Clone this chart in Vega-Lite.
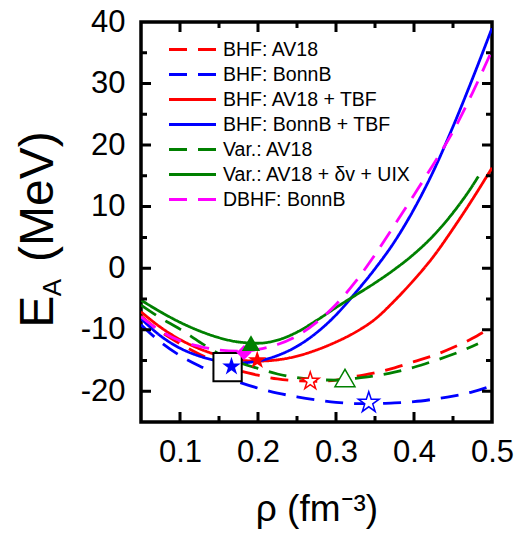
{
  "$schema": "https://vega.github.io/schema/vega-lite/v6.json",
  "width": 351,
  "height": 400,
  "autosize": {"type": "none"},
  "padding": {"left": 141, "top": 22, "right": 27, "bottom": 115},
  "background": "white",
  "datasets": {
    "curves": [
      {"s": "BHF: AV18", "x": 0.05, "y": -7.8}, {"s": "BHF: AV18", "x": 0.075, "y": -10.3}, {"s": "BHF: AV18", "x": 0.1, "y": -12.3}, {"s": "BHF: AV18", "x": 0.125, "y": -14.0}, {"s": "BHF: AV18", "x": 0.15, "y": -15.4}, {"s": "BHF: AV18", "x": 0.175, "y": -16.6}, {"s": "BHF: AV18", "x": 0.2, "y": -17.4}, {"s": "BHF: AV18", "x": 0.225, "y": -18.0}, {"s": "BHF: AV18", "x": 0.25, "y": -18.3}, {"s": "BHF: AV18", "x": 0.275, "y": -18.4}, {"s": "BHF: AV18", "x": 0.3, "y": -18.2}, {"s": "BHF: AV18", "x": 0.325, "y": -17.6}, {"s": "BHF: AV18", "x": 0.35, "y": -17.0}, {"s": "BHF: AV18", "x": 0.375, "y": -16.2}, {"s": "BHF: AV18", "x": 0.4, "y": -15.2}, {"s": "BHF: AV18", "x": 0.425, "y": -14.2}, {"s": "BHF: AV18", "x": 0.45, "y": -12.9}, {"s": "BHF: AV18", "x": 0.475, "y": -11.4}, {"s": "BHF: AV18", "x": 0.489, "y": -10.4},
      {"s": "BHF: BonnB", "x": 0.05, "y": -9.2}, {"s": "BHF: BonnB", "x": 0.075, "y": -12.0}, {"s": "BHF: BonnB", "x": 0.1, "y": -14.2}, {"s": "BHF: BonnB", "x": 0.125, "y": -15.9}, {"s": "BHF: BonnB", "x": 0.15, "y": -17.3}, {"s": "BHF: BonnB", "x": 0.175, "y": -18.5}, {"s": "BHF: BonnB", "x": 0.2, "y": -19.5}, {"s": "BHF: BonnB", "x": 0.225, "y": -20.3}, {"s": "BHF: BonnB", "x": 0.25, "y": -20.9}, {"s": "BHF: BonnB", "x": 0.275, "y": -21.4}, {"s": "BHF: BonnB", "x": 0.3, "y": -21.8}, {"s": "BHF: BonnB", "x": 0.325, "y": -22.0}, {"s": "BHF: BonnB", "x": 0.35, "y": -22.0}, {"s": "BHF: BonnB", "x": 0.375, "y": -21.9}, {"s": "BHF: BonnB", "x": 0.4, "y": -21.7}, {"s": "BHF: BonnB", "x": 0.425, "y": -21.3}, {"s": "BHF: BonnB", "x": 0.45, "y": -20.8}, {"s": "BHF: BonnB", "x": 0.475, "y": -20.1}, {"s": "BHF: BonnB", "x": 0.5, "y": -19.1},
      {"s": "BHF: AV18 + TBF", "x": 0.05, "y": -7.1}, {"s": "BHF: AV18 + TBF", "x": 0.075, "y": -9.6}, {"s": "BHF: AV18 + TBF", "x": 0.1, "y": -11.6}, {"s": "BHF: AV18 + TBF", "x": 0.125, "y": -13.1}, {"s": "BHF: AV18 + TBF", "x": 0.15, "y": -14.2}, {"s": "BHF: AV18 + TBF", "x": 0.175, "y": -14.9}, {"s": "BHF: AV18 + TBF", "x": 0.2, "y": -15.1}, {"s": "BHF: AV18 + TBF", "x": 0.225, "y": -14.9}, {"s": "BHF: AV18 + TBF", "x": 0.25, "y": -14.3}, {"s": "BHF: AV18 + TBF", "x": 0.275, "y": -13.3}, {"s": "BHF: AV18 + TBF", "x": 0.3, "y": -12.0}, {"s": "BHF: AV18 + TBF", "x": 0.325, "y": -10.4}, {"s": "BHF: AV18 + TBF", "x": 0.35, "y": -8.3}, {"s": "BHF: AV18 + TBF", "x": 0.375, "y": -5.3}, {"s": "BHF: AV18 + TBF", "x": 0.4, "y": -1.9}, {"s": "BHF: AV18 + TBF", "x": 0.425, "y": 1.9}, {"s": "BHF: AV18 + TBF", "x": 0.45, "y": 6.4}, {"s": "BHF: AV18 + TBF", "x": 0.475, "y": 11.2}, {"s": "BHF: AV18 + TBF", "x": 0.5, "y": 16.3},
      {"s": "BHF: BonnB + TBF", "x": 0.05, "y": -8.2}, {"s": "BHF: BonnB + TBF", "x": 0.075, "y": -11.0}, {"s": "BHF: BonnB + TBF", "x": 0.1, "y": -13.0}, {"s": "BHF: BonnB + TBF", "x": 0.125, "y": -14.3}, {"s": "BHF: BonnB + TBF", "x": 0.15, "y": -15.1}, {"s": "BHF: BonnB + TBF", "x": 0.175, "y": -15.4}, {"s": "BHF: BonnB + TBF", "x": 0.2, "y": -15.1}, {"s": "BHF: BonnB + TBF", "x": 0.225, "y": -14.2}, {"s": "BHF: BonnB + TBF", "x": 0.25, "y": -12.7}, {"s": "BHF: BonnB + TBF", "x": 0.275, "y": -10.5}, {"s": "BHF: BonnB + TBF", "x": 0.3, "y": -7.6}, {"s": "BHF: BonnB + TBF", "x": 0.325, "y": -4.0}, {"s": "BHF: BonnB + TBF", "x": 0.35, "y": -0.1}, {"s": "BHF: BonnB + TBF", "x": 0.375, "y": 4.3}, {"s": "BHF: BonnB + TBF", "x": 0.4, "y": 9.6}, {"s": "BHF: BonnB + TBF", "x": 0.425, "y": 15.8}, {"s": "BHF: BonnB + TBF", "x": 0.45, "y": 23.0}, {"s": "BHF: BonnB + TBF", "x": 0.475, "y": 30.8}, {"s": "BHF: BonnB + TBF", "x": 0.5, "y": 39.0},
      {"s": "Var.: AV18", "x": 0.05, "y": -6.0}, {"s": "Var.: AV18", "x": 0.075, "y": -8.1}, {"s": "Var.: AV18", "x": 0.1, "y": -9.9}, {"s": "Var.: AV18", "x": 0.125, "y": -12.0}, {"s": "Var.: AV18", "x": 0.15, "y": -13.9}, {"s": "Var.: AV18", "x": 0.175, "y": -15.3}, {"s": "Var.: AV18", "x": 0.2, "y": -16.3}, {"s": "Var.: AV18", "x": 0.225, "y": -17.2}, {"s": "Var.: AV18", "x": 0.25, "y": -17.8}, {"s": "Var.: AV18", "x": 0.275, "y": -18.1}, {"s": "Var.: AV18", "x": 0.3, "y": -18.2}, {"s": "Var.: AV18", "x": 0.325, "y": -17.9}, {"s": "Var.: AV18", "x": 0.35, "y": -17.5}, {"s": "Var.: AV18", "x": 0.375, "y": -16.9}, {"s": "Var.: AV18", "x": 0.4, "y": -16.1}, {"s": "Var.: AV18", "x": 0.425, "y": -15.1}, {"s": "Var.: AV18", "x": 0.45, "y": -14.0}, {"s": "Var.: AV18", "x": 0.475, "y": -12.7}, {"s": "Var.: AV18", "x": 0.482, "y": -12.3},
      {"s": "Var.: AV18 + δv + UIX", "x": 0.05, "y": -5.2}, {"s": "Var.: AV18 + δv + UIX", "x": 0.075, "y": -7.1}, {"s": "Var.: AV18 + δv + UIX", "x": 0.1, "y": -8.8}, {"s": "Var.: AV18 + δv + UIX", "x": 0.125, "y": -10.2}, {"s": "Var.: AV18 + δv + UIX", "x": 0.15, "y": -11.3}, {"s": "Var.: AV18 + δv + UIX", "x": 0.175, "y": -12.0}, {"s": "Var.: AV18 + δv + UIX", "x": 0.2, "y": -12.2}, {"s": "Var.: AV18 + δv + UIX", "x": 0.225, "y": -11.7}, {"s": "Var.: AV18 + δv + UIX", "x": 0.25, "y": -10.4}, {"s": "Var.: AV18 + δv + UIX", "x": 0.275, "y": -8.5}, {"s": "Var.: AV18 + δv + UIX", "x": 0.3, "y": -6.4}, {"s": "Var.: AV18 + δv + UIX", "x": 0.325, "y": -4.4}, {"s": "Var.: AV18 + δv + UIX", "x": 0.35, "y": -2.4}, {"s": "Var.: AV18 + δv + UIX", "x": 0.375, "y": -0.2}, {"s": "Var.: AV18 + δv + UIX", "x": 0.4, "y": 2.3}, {"s": "Var.: AV18 + δv + UIX", "x": 0.425, "y": 5.3}, {"s": "Var.: AV18 + δv + UIX", "x": 0.45, "y": 9.0}, {"s": "Var.: AV18 + δv + UIX", "x": 0.475, "y": 13.4}, {"s": "Var.: AV18 + δv + UIX", "x": 0.4825, "y": 14.9},
      {"s": "DBHF: BonnB", "x": 0.05, "y": -7.9}, {"s": "DBHF: BonnB", "x": 0.075, "y": -10.2}, {"s": "DBHF: BonnB", "x": 0.1, "y": -11.8}, {"s": "DBHF: BonnB", "x": 0.125, "y": -12.7}, {"s": "DBHF: BonnB", "x": 0.15, "y": -13.3}, {"s": "DBHF: BonnB", "x": 0.175, "y": -13.5}, {"s": "DBHF: BonnB", "x": 0.2, "y": -13.2}, {"s": "DBHF: BonnB", "x": 0.225, "y": -12.4}, {"s": "DBHF: BonnB", "x": 0.25, "y": -11.0}, {"s": "DBHF: BonnB", "x": 0.275, "y": -8.8}, {"s": "DBHF: BonnB", "x": 0.3, "y": -5.9}, {"s": "DBHF: BonnB", "x": 0.325, "y": -2.2}, {"s": "DBHF: BonnB", "x": 0.35, "y": 2.2}, {"s": "DBHF: BonnB", "x": 0.375, "y": 7.0}, {"s": "DBHF: BonnB", "x": 0.4, "y": 11.9}, {"s": "DBHF: BonnB", "x": 0.425, "y": 16.9}, {"s": "DBHF: BonnB", "x": 0.45, "y": 22.2}, {"s": "DBHF: BonnB", "x": 0.475, "y": 28.5}, {"s": "DBHF: BonnB", "x": 0.5, "y": 35.4}
    ],
    "markers": [
      {"id": "sq", "x": 0.161, "y": -16.1},
      {"id": "bstar", "x": 0.166, "y": -16.0},
      {"id": "rstar", "x": 0.199, "y": -14.95},
      {"id": "gtri", "x": 0.191, "y": -12.2},
      {"id": "mdia", "x": 0.182, "y": -13.7},
      {"id": "rostar", "x": 0.267, "y": -18.35},
      {"id": "gotri", "x": 0.3115, "y": -17.85},
      {"id": "bostar", "x": 0.342, "y": -21.85}
    ],
    "xmajor": [{"v": 0.1}, {"v": 0.2}, {"v": 0.3}, {"v": 0.4}],
    "xminor": [{"v": 0.15}, {"v": 0.25}, {"v": 0.35}, {"v": 0.45}],
    "ymajor": [{"v": -20}, {"v": -10}, {"v": 0}, {"v": 10}, {"v": 20}, {"v": 30}],
    "yminor": [{"v": -15}, {"v": -5}, {"v": 5}, {"v": 15}, {"v": 25}, {"v": 35}]
  },
  "resolve": {"axis": {"x": "independent", "y": "independent"}},
  "layer": [
    {
      "data": {"name": "curves"},
      "mark": {"type": "line", "strokeWidth": 2.8, "interpolate": "monotone", "clip": true},
      "encoding": {
        "x": {"field": "x", "type": "quantitative", "scale": {"domain": [0.05, 0.5], "nice": false, "zero": false},
          "axis": {"orient": "bottom", "values": [0.1, 0.2, 0.3, 0.4, 0.5], "format": ".1f", "ticks": false, "labelPadding": 15, "labelFlush": false,
            "title": "ρ (fm⁻³)", "titleFontSize": 37, "titleX": 175.5, "titleY": 98, "titleBaseline": "alphabetic", "titleAlign": "center"}},
        "y": {"field": "y", "type": "quantitative", "scale": {"domain": [-25, 40], "nice": false, "zero": false},
          "axis": {"orient": "left", "values": [-20, -10, 0, 10, 20, 30, 40], "ticks": false, "labelPadding": 16, "labelExpr": "'' + datum.value",
            "title": "E\u2002\u2009(MeV)", "titleFontSize": 48, "titleAngle": -90, "titleX": -89, "titleY": 207, "titleBaseline": "alphabetic", "titleAlign": "center"}},
        "color": {"field": "s", "type": "nominal",
          "scale": {"domain": ["BHF: AV18", "BHF: BonnB", "BHF: AV18 + TBF", "BHF: BonnB + TBF", "Var.: AV18", "Var.: AV18 + δv + UIX", "DBHF: BonnB"],
            "range": ["#ff0000", "#0000ff", "#ff0000", "#0000ff", "#008000", "#008000", "#ff00ff"]},
          "legend": {"orient": "none", "legendX": 40, "legendY": 16, "title": null, "symbolType": "M-2.35,0H2.35", "symbolSize": 400, "symbolStrokeWidth": 3, "labelFontSize": 19.5, "labelFont": "Liberation Sans", "labelColor": "black", "labelOffset": 19, "rowPadding": 4, "padding": 0, "labelLimit": 400}},
        "strokeDash": {"field": "s", "type": "nominal",
          "scale": {"domain": ["BHF: AV18", "BHF: BonnB", "BHF: AV18 + TBF", "BHF: BonnB + TBF", "Var.: AV18", "Var.: AV18 + δv + UIX", "DBHF: BonnB"],
            "range": [[18, 11], [18, 11], [1, 0], [1, 0], [18, 11], [1, 0], [18, 11]]},
          "legend": {"orient": "none", "legendX": 40, "legendY": 16, "title": null, "symbolType": "M-2.35,0H2.35", "symbolSize": 400, "symbolStrokeWidth": 3, "labelFontSize": 19.5, "labelFont": "Liberation Sans", "labelColor": "black", "labelOffset": 19, "rowPadding": 4, "padding": 0, "labelLimit": 400}}
      }
    },
    {
      "data": {"name": "xmajor"},
      "mark": {"type": "point", "shape": "M-0.0075,-1H0.0075V-0.95H-0.0075ZM-0.0075,0.95H0.0075V1H-0.0075Z", "size": 160000, "filled": true, "color": "black", "strokeWidth": 0, "opacity": 1},
      "encoding": {
        "x": {"field": "v", "type": "quantitative", "axis": null},
        "y": {"datum": 7.5, "type": "quantitative", "axis": null}
      }
    },
    {
      "data": {"name": "xminor"},
      "mark": {"type": "point", "shape": "M-0.0075,-1H0.0075V-0.97H-0.0075ZM-0.0075,0.97H0.0075V1H-0.0075Z", "size": 160000, "filled": true, "color": "black", "strokeWidth": 0, "opacity": 1},
      "encoding": {
        "x": {"field": "v", "type": "quantitative", "axis": null},
        "y": {"datum": 7.5, "type": "quantitative", "axis": null}
      }
    },
    {
      "data": {"name": "ymajor"},
      "mark": {"type": "point", "shape": "M-1,-0.00855H-0.943V0.00855H-1ZM0.943,-0.00855H1V0.00855H0.943Z", "size": 123201, "filled": true, "color": "black", "strokeWidth": 0, "opacity": 1},
      "encoding": {
        "x": {"datum": 0.275, "type": "quantitative", "axis": null},
        "y": {"field": "v", "type": "quantitative", "axis": null}
      }
    },
    {
      "data": {"name": "yminor"},
      "mark": {"type": "point", "shape": "M-1,-0.00855H-0.9658V0.00855H-1ZM0.9658,-0.00855H1V0.00855H0.9658Z", "size": 123201, "filled": true, "color": "black", "strokeWidth": 0, "opacity": 1},
      "encoding": {
        "x": {"datum": 0.275, "type": "quantitative", "axis": null},
        "y": {"field": "v", "type": "quantitative", "axis": null}
      }
    },
    {
      "data": {"name": "markers"},
      "transform": [{"filter": "datum.id === 'sq'"}],
      "mark": {"type": "point", "shape": "square", "size": 800, "filled": false, "fill": "white", "fillOpacity": 1, "stroke": "black", "strokeWidth": 2, "opacity": 1},
      "encoding": {
        "x": {"field": "x", "type": "quantitative", "axis": null},
        "y": {"field": "y", "type": "quantitative", "axis": null}
      }
    },
    {
      "data": {"name": "markers"},
      "transform": [{"filter": "datum.id === 'bstar'"}],
      "mark": {"type": "point", "shape": "M0,-1L0.2245,-0.309L0.951,-0.309L0.363,0.118L0.588,0.809L0,0.382L-0.588,0.809L-0.363,0.118L-0.951,-0.309L-0.2245,-0.309Z", "size": 380, "filled": true, "color": "#0000ff", "opacity": 1},
      "encoding": {
        "x": {"field": "x", "type": "quantitative", "axis": null},
        "y": {"field": "y", "type": "quantitative", "axis": null}
      }
    },
    {
      "data": {"name": "markers"},
      "transform": [{"filter": "datum.id === 'rstar'"}],
      "mark": {"type": "point", "shape": "M0,-1L0.2245,-0.309L0.951,-0.309L0.363,0.118L0.588,0.809L0,0.382L-0.588,0.809L-0.363,0.118L-0.951,-0.309L-0.2245,-0.309Z", "size": 380, "filled": true, "color": "#ff0000", "opacity": 1},
      "encoding": {
        "x": {"field": "x", "type": "quantitative", "axis": null},
        "y": {"field": "y", "type": "quantitative", "axis": null}
      }
    },
    {
      "data": {"name": "markers"},
      "transform": [{"filter": "datum.id === 'mdia'"}],
      "mark": {"type": "point", "shape": "diamond", "size": 230, "filled": true, "color": "#ff00ff", "opacity": 1},
      "encoding": {
        "x": {"field": "x", "type": "quantitative", "axis": null},
        "y": {"field": "y", "type": "quantitative", "axis": null}
      }
    },
    {
      "data": {"name": "markers"},
      "transform": [{"filter": "datum.id === 'gtri'"}],
      "mark": {"type": "point", "shape": "triangle-up", "size": 330, "filled": true, "color": "#008000", "opacity": 1},
      "encoding": {
        "x": {"field": "x", "type": "quantitative", "axis": null},
        "y": {"field": "y", "type": "quantitative", "axis": {"orient": "left", "ticks": false, "labels": false, "domain": false,
          "title": "A", "titleFontSize": 26, "titleAngle": -90, "titleX": -81, "titleY": 265, "titleBaseline": "alphabetic", "titleAlign": "center"}}
      }
    },
    {
      "data": {"name": "markers"},
      "transform": [{"filter": "datum.id === 'rostar'"}],
      "mark": {"type": "point", "shape": "M0,-1L0.2245,-0.309L0.951,-0.309L0.363,0.118L0.588,0.809L0,0.382L-0.588,0.809L-0.363,0.118L-0.951,-0.309L-0.2245,-0.309Z", "size": 340, "filled": false, "fill": "white", "fillOpacity": 1, "stroke": "#ff0000", "strokeWidth": 1.5, "opacity": 1},
      "encoding": {
        "x": {"field": "x", "type": "quantitative", "axis": null},
        "y": {"field": "y", "type": "quantitative", "axis": null}
      }
    },
    {
      "data": {"name": "markers"},
      "transform": [{"filter": "datum.id === 'gotri'"}],
      "mark": {"type": "point", "shape": "triangle-up", "size": 400, "filled": false, "fill": "white", "fillOpacity": 1, "stroke": "#008000", "strokeWidth": 1.5, "opacity": 1},
      "encoding": {
        "x": {"field": "x", "type": "quantitative", "axis": null},
        "y": {"field": "y", "type": "quantitative", "axis": null}
      }
    },
    {
      "data": {"name": "markers"},
      "transform": [{"filter": "datum.id === 'bostar'"}],
      "mark": {"type": "point", "shape": "M0,-1L0.2245,-0.309L0.951,-0.309L0.363,0.118L0.588,0.809L0,0.382L-0.588,0.809L-0.363,0.118L-0.951,-0.309L-0.2245,-0.309Z", "size": 480, "filled": false, "fill": "white", "fillOpacity": 1, "stroke": "#0000ff", "strokeWidth": 1.5, "opacity": 1},
      "encoding": {
        "x": {"field": "x", "type": "quantitative", "axis": null},
        "y": {"field": "y", "type": "quantitative", "axis": null}
      }
    }
  ],
  "config": {
    "view": {"stroke": "black", "strokeWidth": 3.5, "fill": null},
    "font": "Liberation Sans",
    "axis": {"grid": false, "domain": false, "labelFont": "Liberation Sans", "labelFontSize": 31, "labelColor": "black",
      "titleFont": "Liberation Sans", "titleColor": "black", "titleFontWeight": "normal", "labelOverlap": false}
  }
}
